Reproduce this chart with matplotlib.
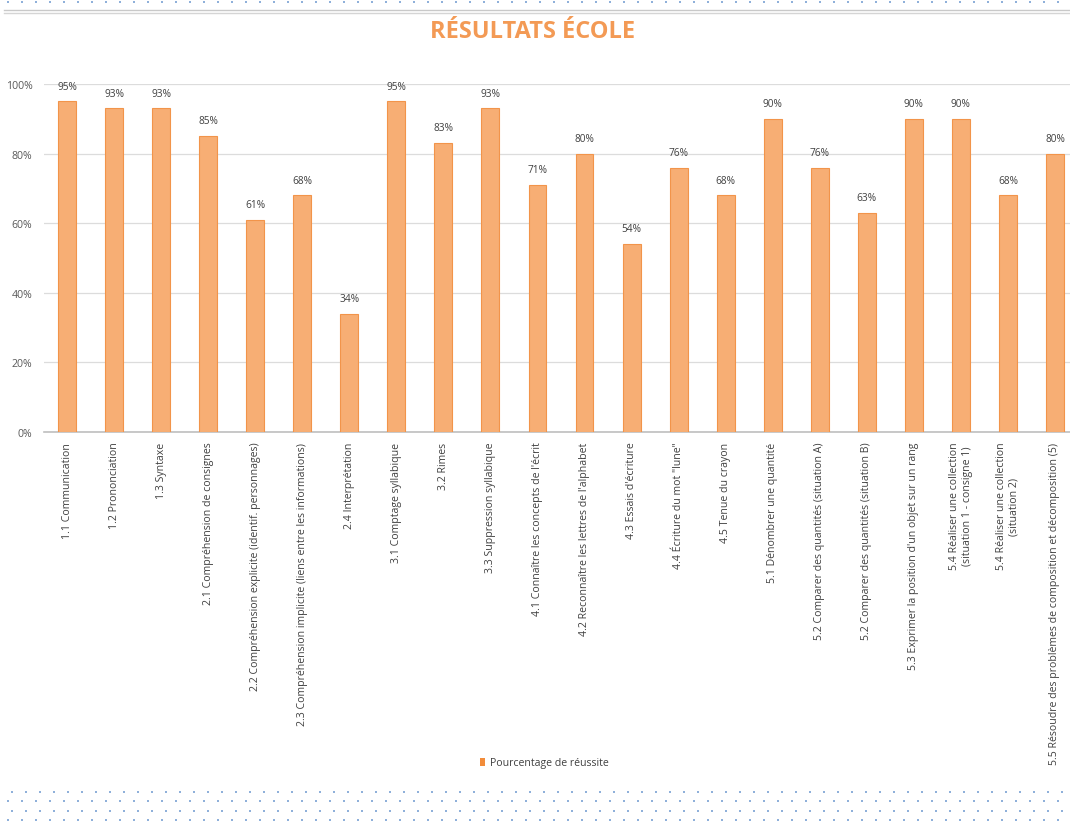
import matplotlib
matplotlib.use("Agg")
import matplotlib.pyplot as plt
import numpy as np
from matplotlib.ticker import PercentFormatter
from matplotlib.patches import Patch

categories = [
    "1.1 Communication",
    "1.2 Prononciation",
    "1.3 Syntaxe",
    "2.1 Compréhension de consignes",
    "2.2 Compréhension explicite (identif. personnages)",
    "2.3 Compréhension implicite (liens entre les informations)",
    "2.4 Interprétation",
    "3.1 Comptage syllabique",
    "3.2 Rimes",
    "3.3 Suppression syllabique",
    "4.1 Connaître les concepts de l'écrit",
    "4.2 Reconnaître les lettres de l'alphabet",
    "4.3 Essais d'écriture",
    "4.4 Écriture du mot \"lune\"",
    "4.5 Tenue du crayon",
    "5.1 Dénombrer une quantité",
    "5.2 Comparer des quantités (situation A)",
    "5.2 Comparer des quantités (situation B)",
    "5.3 Exprimer la position d'un objet sur un rang",
    "5.4 Réaliser une collection\n(situation 1 - consigne 1)",
    "5.4 Réaliser une collection\n(situation 2)",
    "5.5 Résoudre des problèmes de composition et décomposition (5)",
]
values = [95, 93, 93, 85, 61, 68, 34, 95, 83, 93, 71, 80, 54, 76, 68, 90, 76, 63, 90, 90, 68, 80]
series_name = "Pourcentage de réussite"
title = "RÉSULTATS ÉCOLE"
yticks = [0, 20, 40, 60, 80, 100]

W, H = 1070, 829
plt.rcParams["font.family"] = ["Open Sans", "DejaVu Sans"]
fig = plt.figure(figsize=(W / 100, H / 100), dpi=100)
fig.patch.set_facecolor("white")

left_px, right_px, top_px, bottom_px = 43.5, 1078.5, 85, 433
ax = fig.add_axes([left_px / W, 1 - bottom_px / H, (right_px - left_px) / W, (bottom_px - top_px) / H])

x = np.arange(len(categories))
bars = ax.bar(x, values, width=0.38, color="#F7AE74", edgecolor="#F2944A", linewidth=0.8,
              label=series_name, zorder=3)
ax.set_xlim(-0.5, len(categories) - 0.5)
ax.set_ylim(0, 100)
ax.set_yticks(yticks)
ax.yaxis.set_major_formatter(PercentFormatter(100, decimals=0))
ax.grid(axis="y", color="#DCDCDC", linewidth=0.9, zorder=0)
for s in ["top", "right", "left"]:
    ax.spines[s].set_visible(False)
ax.spines["bottom"].set_color("#BFBFBF")
ax.spines["bottom"].set_linewidth(1.2)
ax.tick_params(axis="both", length=0, colors="#595959")
ax.tick_params(axis="y", labelsize=7.6, pad=8)
ax.set_xticks(x)
ax.set_xticklabels(categories, rotation=90, fontsize=7.6, color="#404040",
                   va="top", ha="center", multialignment="center")
ax.tick_params(axis="x", pad=7)

for xi, v in zip(x, values):
    ax.annotate(f"{v}%", (xi, v), xytext=(0, 7), textcoords="offset points",
                ha="center", va="bottom", fontsize=7.3, color="#404040")

fig.text(533 / W, 1 - 32 / H, title, ha="center", va="center", fontsize=17,
         fontweight="bold", color="#F39A55")

handle = Patch(facecolor="#F28C3A", edgecolor="none")
leg = fig.legend(handles=[handle], labels=[series_name], loc="center",
                 bbox_to_anchor=(544 / W, 1 - 764 / H), frameon=False, fontsize=7.6,
                 handlelength=0.55, handleheight=0.8, handletextpad=0.4)
for t in leg.get_texts():
    t.set_color("#404040")

# decorative overlay
ov = fig.add_axes([0, 0, 1, 1], zorder=-1)
ov.set_xlim(0, W)
ov.set_ylim(H, 0)
ov.axis("off")
dot_color = "#8FB0DA"
xs = np.arange(8, W, 14)
ov.scatter(xs, np.full_like(xs, 3.0, dtype=float), s=1.5, color=dot_color, marker="s", linewidths=0)
ov.plot([4, W], [11, 11], color="#C9C9C9", linewidth=1.0)
ov.plot([4, W], [13.5, 13.5], color="#D5D5D5", linewidth=1.0)
for i, yy in enumerate([793, 802, 812, 821]):
    off = 12 if i % 2 == 0 else 8
    xs2 = np.arange(off, W, 14)
    ov.scatter(xs2, np.full_like(xs2, yy, dtype=float), s=2, color=dot_color, marker="s", linewidths=0)

fig.savefig("out.png", dpi=100, facecolor="white")
